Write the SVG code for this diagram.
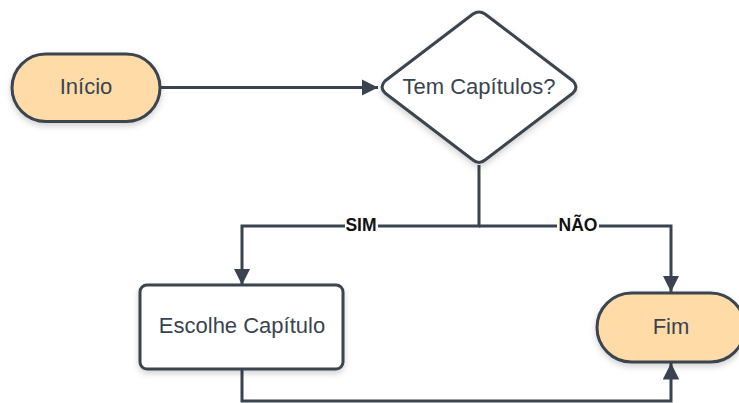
<svg xmlns="http://www.w3.org/2000/svg" width="739" height="403" viewBox="0 0 739 403">
<defs>
<filter id="sh" x="-20%" y="-20%" width="140%" height="150%">
<feDropShadow dx="0" dy="3" stdDeviation="3" flood-color="#000" flood-opacity="0.18"/>
</filter>
<marker id="ah" viewBox="0 0 10 10" refX="10" refY="5" markerWidth="5.5" markerHeight="5.5" markerUnits="strokeWidth" orient="auto">
<path d="M0,0 L10,5 L0,10 z" fill="#3a4450"/>
</marker>
<style>
.shape{stroke:#3a4450;stroke-width:3;filter:url(#sh)}
.term{fill:#ffdba8}
.box{fill:#ffffff}
.t{font-family:"Liberation Sans",Arial,sans-serif;font-size:22px;fill:#3a4450;text-anchor:middle;dominant-baseline:central}
.lbl{font-family:"Liberation Sans",Arial,sans-serif;font-size:17.5px;font-weight:bold;fill:#111;text-anchor:middle;dominant-baseline:central}
.c{fill:none;stroke:#3a4450;stroke-width:3}
</style>
</defs>
<rect width="739" height="403" fill="#ffffff"/>
<g id="connectors">
<path class="c" d="M160,87.5 H378" marker-end="url(#ah)"/>
<path class="c" d="M479,165 V226 H242 V285" marker-end="url(#ah)"/>
<path class="c" d="M479,226 H671 V292" marker-end="url(#ah)"/>
<path class="c" d="M242,369 V401 H671 V363" marker-end="url(#ah)"/>
<rect x="345" y="215" width="33" height="20" fill="#ffffff"/>
<rect x="557" y="215" width="42" height="20" fill="#ffffff"/>
<text class="lbl" x="361" y="225">SIM</text>
<text class="lbl" x="578" y="225">NÃO</text>
</g>
<g id="inicio">
<rect class="shape term" x="12" y="54" width="148" height="67.5" rx="33.75"/>
<text class="t" x="86" y="86">Início</text>
</g>
<g id="decisao">
<path class="shape box" d="M473,14 Q479,10 485,14 L573,81 Q579,87 573,93 L485,160 Q479,165 473,160 L385,93 Q379,87 385,81 Z" stroke-linejoin="round"/>
<text class="t" x="479" y="86">Tem Capítulos?</text>
</g>
<g id="escolhe">
<rect class="shape box" x="140" y="285" width="203" height="84" rx="7"/>
<text class="t" x="242" y="325">Escolhe Capítulo</text>
</g>
<g id="fim">
<rect class="shape term" x="597" y="293" width="148" height="69" rx="34.5"/>
<text class="t" x="671" y="326">Fim</text>
</g>
</svg>
